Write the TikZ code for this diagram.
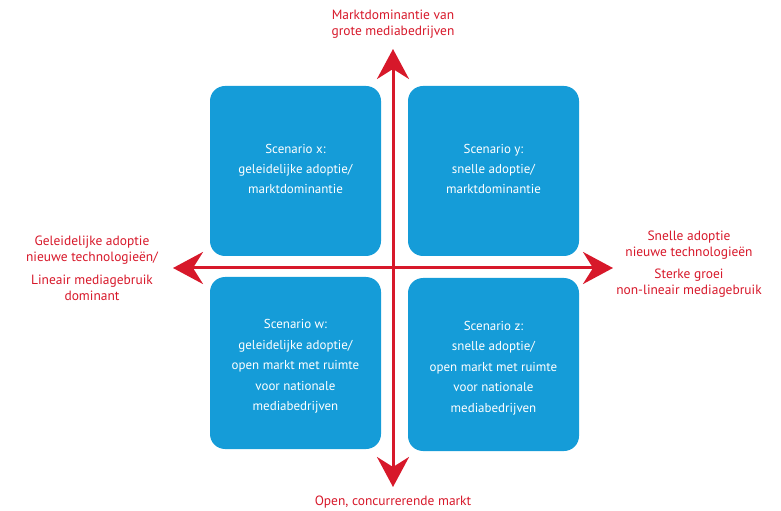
\documentclass[tikz,border=0pt]{standalone}
\usepackage{fontspec}
\setmainfont{PT Sans}
\usetikzlibrary{arrows.meta}
\definecolor{axred}{HTML}{D7182A}
\definecolor{boxblue}{HTML}{159CD8}
\begin{document}
\begin{tikzpicture}[x=1bp,y=-1bp,
  scen/.style={rounded corners=15bp,text=white,align=center,font=\fontsize{13}{20.5}\selectfont},
  lab/.style={text=axred,align=center,font=\fontsize{13.5}{16.5}\selectfont},
  axis/.style={draw=axred,line width=3bp,{Stealth[length=30bp,width=32bp,inset=10bp]}-{Stealth[length=30bp,width=32bp,inset=10bp]}}]
\useasboundingbox (0,0) rectangle (781,511);
\fill[boxblue,rounded corners=15bp] (210,86) rectangle (381,256);
\fill[boxblue,rounded corners=15bp] (408,86) rectangle (579,256);
\fill[boxblue,rounded corners=15bp] (210,277) rectangle (381,449);
\fill[boxblue,rounded corners=15bp] (408,278) rectangle (579,451);
\node[scen] (x) at (295.5,169) {Scenario x:\\geleidelijke adoptie/\\marktdominantie};
\node[scen] (y) at (493.5,169) {Scenario y:\\snelle adoptie/\\marktdominantie};
\node[scen] (w) at (295.5,366.5) {Scenario w:\\geleidelijke adoptie/\\open markt met ruimte\\voor nationale\\mediabedrijven};
\node[scen] (z) at (493.5,368) {Scenario z:\\snelle adoptie/\\open markt met ruimte\\voor nationale\\mediabedrijven};
\coordinate (top) at (393,49);
\coordinate (bot) at (393,487);
\coordinate (lft) at (173,268);
\coordinate (rgt) at (613,268);
\draw[axis] (top) -- (bot);
\draw[axis] (lft) -- (rgt);
\node[lab] (tl) at (393,24) {Marktdominantie van\\grote mediabedrijven};
\node[lab] (bl) at (393,502) {Open, concurrerende markt};
\node[lab] (ll1) at (92,250) {Geleidelijke adoptie\\nieuwe technologieën/};
\node[lab] (ll2) at (92,288) {Lineair mediagebruik\\dominant};
\node[lab] (rl1) at (689,245) {Snelle adoptie\\nieuwe technologieën};
\node[lab] (rl2) at (689,283) {Sterke groei\\non-lineair mediagebruik};
\end{tikzpicture}
\end{document}
